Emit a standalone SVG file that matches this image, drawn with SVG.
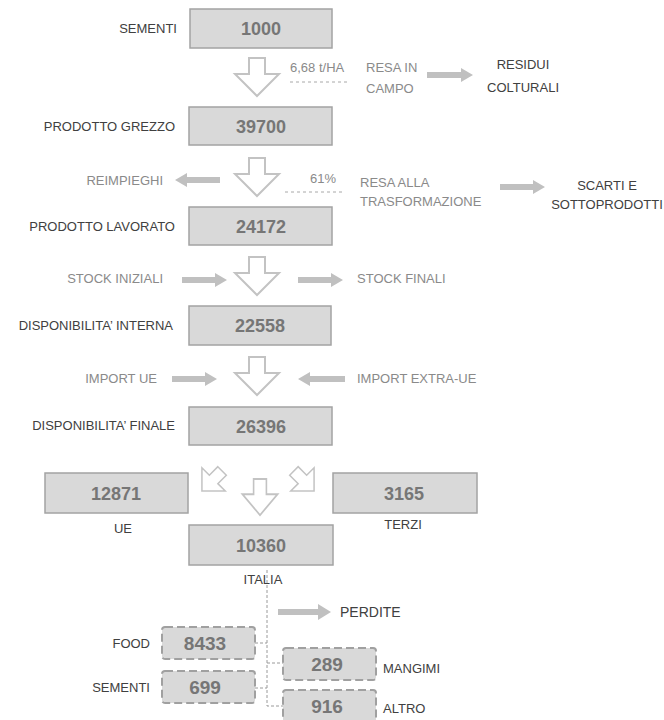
<svg xmlns="http://www.w3.org/2000/svg" width="664" height="720" viewBox="0 0 664 720">
<style>
text{font-family:"Liberation Sans",Arial,sans-serif;font-size:13px}
.lbl{fill:#404040}
.gry{fill:#8a8a8a}
.num{fill:#767676;font-weight:bold;font-size:18px;text-anchor:middle}
.dnum{fill:#767676;font-weight:bold;font-size:19px;text-anchor:middle}
.box{fill:#d9d9d9;stroke:#a3a3a3;stroke-width:1.5}
.dbox{fill:#d9d9d9;stroke:#a0a0a0;stroke-width:2;stroke-dasharray:8 4}
.hol{fill:#fff;stroke:#c3c3c3;stroke-width:2;stroke-linejoin:miter}
.fil{fill:#c0c0c0}
.dash{fill:none;stroke:#a8a8a8;stroke-width:1;stroke-dasharray:3 3}
.ddash{fill:none;stroke:#9a9a9a;stroke-width:1;stroke-dasharray:3 2}
.mid{text-anchor:middle}
.end{text-anchor:end}
</style>
<defs>
<path id="dn" d="M-8,0 H8 V16 H22 L0,38 L-22,16 H-8 Z"/>
</defs>
<rect width="664" height="720" fill="#fff"/>

<g id="connectors">
<use href="#dn" class="hol" transform="translate(257,58)"/>
<use href="#dn" class="hol" transform="translate(257,158)"/>
<use href="#dn" class="hol" transform="translate(257,257)"/>
<use href="#dn" class="hol" transform="translate(257,357)"/>
<use href="#dn" class="hol" transform="translate(260,479) scale(0.8,0.95)"/>
<use href="#dn" class="hol" transform="translate(212,481) rotate(45) scale(0.75) translate(0,-19)"/>
<use href="#dn" class="hol" transform="translate(304,481) rotate(-45) scale(0.75) translate(0,-19)"/>
<path class="dash" d="M290,82 H348"/>
<path class="dash" d="M285,192 H342"/>
<path class="fil" d="M427,72 H461 V68 L473,75 L461,82 V78 H427 Z"/>
<path class="fil" d="M500,184 H533 V180 L545,187 L533,194 V190 H500 Z"/>
<path class="fil" d="M220,177 H187 V173 L175,180 L187,187 V183 H220 Z"/>
<path class="fil" d="M182,277 H215 V273 L227,280 L215,287 V283 H182 Z"/>
<path class="fil" d="M298,277 H331 V273 L343,280 L331,287 V283 H298 Z"/>
<path class="fil" d="M172,376 H205 V372 L217,379 L205,386 V382 H172 Z"/>
<path class="fil" d="M345,376 H310 V372 L298,379 L310,386 V382 H345 Z"/>
<path class="fil" d="M278,609 H318 V604 L331,612 L318,620 V615 H278 Z"/>
<path class="ddash" d="M267,570 V706 H283"/>
<path class="ddash" d="M255,643 H267"/>
<path class="ddash" d="M255,688 H267"/>
<path class="ddash" d="M267,663 H283"/>
</g>

<g id="n-sementi">
<rect class="box" x="190" y="9" width="142" height="39"/>
<text class="num" x="261" y="35">1000</text>
<text class="lbl end" x="177" y="33">SEMENTI</text>
</g>
<g id="n-resa-campo">
<text class="gry" x="290" y="72">6,68 t/HA</text>
<text class="gry" x="366" y="72">RESA IN</text>
<text class="gry" x="366" y="93">CAMPO</text>
</g>
<g id="n-residui">
<text class="lbl mid" x="523" y="69">RESIDUI</text>
<text class="lbl mid" x="523" y="92">COLTURALI</text>
</g>
<g id="n-grezzo">
<rect class="box" x="189" y="107" width="143" height="38"/>
<text class="num" x="261" y="133">39700</text>
<text class="lbl end" x="175" y="131">PRODOTTO GREZZO</text>
</g>
<g id="n-reimpieghi">
<text class="gry end" x="163" y="185">REIMPIEGHI</text>
</g>
<g id="n-resa-trasf">
<text class="gry" x="310" y="183">61%</text>
<text class="gry" x="360" y="187">RESA ALLA</text>
<text class="gry" x="360" y="206">TRASFORMAZIONE</text>
</g>
<g id="n-scarti">
<text class="lbl mid" x="607" y="190">SCARTI E</text>
<text class="lbl mid" x="607" y="209">SOTTOPRODOTTI</text>
</g>
<g id="n-lavorato">
<rect class="box" x="189" y="207" width="143" height="38"/>
<text class="num" x="261" y="233">24172</text>
<text class="lbl end" x="175" y="231">PRODOTTO LAVORATO</text>
</g>
<g id="n-stock-iniziali">
<text class="gry end" x="163" y="283">STOCK INIZIALI</text>
</g>
<g id="n-stock-finali">
<text class="gry" x="357" y="283">STOCK FINALI</text>
</g>
<g id="n-interna">
<rect class="box" x="189" y="306" width="142" height="39"/>
<text class="num" x="260" y="332">22558</text>
<text class="lbl end" x="173" y="330">DISPONIBILITA’ INTERNA</text>
</g>
<g id="n-import-ue">
<text class="gry end" x="157" y="383">IMPORT UE</text>
</g>
<g id="n-import-extra">
<text class="gry" x="357" y="383">IMPORT EXTRA-UE</text>
</g>
<g id="n-finale">
<rect class="box" x="189" y="407" width="143" height="38"/>
<text class="num" x="261" y="433">26396</text>
<text class="lbl end" x="175" y="430">DISPONIBILITA’ FINALE</text>
</g>
<g id="n-ue">
<rect class="box" x="45" y="473" width="143" height="40"/>
<text class="num" x="116" y="500">12871</text>
<text class="lbl mid" x="123" y="533">UE</text>
</g>
<g id="n-terzi">
<rect class="box" x="333" y="473" width="144" height="40"/>
<text class="num" x="404" y="500">3165</text>
<text class="lbl mid" x="403" y="529">TERZI</text>
</g>
<g id="n-italia">
<rect class="box" x="189" y="525" width="144" height="40"/>
<text class="num" x="261" y="552">10360</text>
<text class="lbl mid" x="263" y="584">ITALIA</text>
</g>
<g id="n-perdite">
<text class="lbl" x="340" y="617" style="font-size:14px">PERDITE</text>
</g>
<g id="n-food">
<rect class="dbox" x="162" y="627" width="93" height="32" rx="3"/>
<text class="dnum" x="205" y="650">8433</text>
<text class="lbl end" x="150" y="648">FOOD</text>
</g>
<g id="n-sementi2">
<rect class="dbox" x="162" y="671" width="93" height="32" rx="3"/>
<text class="dnum" x="205" y="694">699</text>
<text class="lbl end" x="150" y="692">SEMENTI</text>
</g>
<g id="n-mangimi">
<rect class="dbox" x="283" y="648" width="93" height="32" rx="3"/>
<text class="dnum" x="327" y="671">289</text>
<text class="lbl" x="383" y="673">MANGIMI</text>
</g>
<g id="n-altro">
<rect class="dbox" x="283" y="690" width="93" height="32" rx="3"/>
<text class="dnum" x="327" y="713">916</text>
<text class="lbl" x="383" y="713">ALTRO</text>
</g>
</svg>
